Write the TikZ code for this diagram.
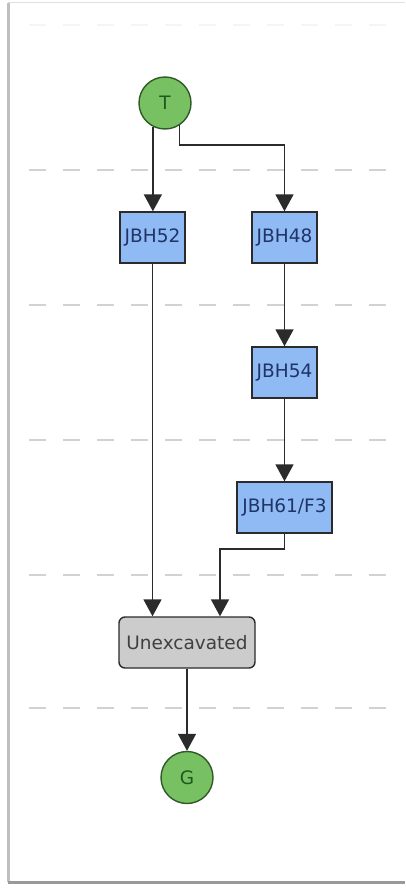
\documentclass[tikz,border=0pt]{standalone}
\usepackage{fontspec}
\setmainfont{DejaVu Sans}
\usetikzlibrary{arrows.meta}
\definecolor{gfill}{HTML}{78C163}
\definecolor{gdraw}{HTML}{2F5A28}
\definecolor{gtext}{HTML}{1D5A1D}
\definecolor{bfill}{HTML}{8FBAF3}
\definecolor{btext}{HTML}{1F3468}
\definecolor{ufill}{HTML}{CCCCCC}
\definecolor{edge}{HTML}{2B2B2B}
\definecolor{dashc}{HTML}{D2D2D2}
\tikzset{
  fnt/.style={font=\fontsize{18.5}{20}\selectfont},
  term/.style={circle, draw=gdraw, fill=gfill, line width=1.4pt, minimum size=52pt, inner sep=0pt, text=gtext, fnt},
  unit/.style={rectangle, draw=edge, fill=bfill, line width=1.4pt, minimum width=65pt, minimum height=51pt, inner sep=0pt, text=btext, fnt},
  unex/.style={rectangle, rounded corners=6pt, draw=edge, fill=ufill, line width=1.4pt, minimum width=136pt, minimum height=51pt, inner sep=0pt, text=edge!90, fnt},
  arr/.style={draw=edge, line width=1.6pt, -{Triangle[width=18pt,length=17pt]}},
  sep/.style={draw=dashc, line width=1.6pt, dash pattern=on 17pt off 17pt},
}
\begin{document}
\begin{tikzpicture}[x=1pt,y=-1pt]
\useasboundingbox (0,0) rectangle (405,888);
% frame
\fill[white] (0,0) rectangle (405,888);
\draw[draw=black!12, line width=1pt] (8,3) -- (405,3);
\draw[draw=black!25, line width=2.5pt] (8.5,3) -- (8.5,882);
\draw[draw=black!40, line width=3pt] (8,882.5) -- (405,882.5);
% separators
\draw[sep, draw=black!4] (29,25) -- (387,25);
\foreach \yy in {170,305,440,575,708} {
  \draw[sep] (29,\yy) -- (387,\yy);
}
% nodes
\node[term] (T) at (165,103) {T};
\node[unit] (J52) at (152.5,237.5) {JBH52};
\node[unit] (J48) at (284.5,237.5) {JBH48};
\node[unit] (J54) at (284.5,372.5) {JBH54};
\node[unit, minimum width=95pt] (J61) at (284.5,507.5) {JBH61/F3};
\node[unex] (U) at (187,642.5) {Unexcavated};
\node[term] (G) at (187,777.5) {G};
% bends
\coordinate (b1) at (179,145);
\coordinate (b2) at (220,549);
% edges
\draw[arr] (T.-117) -- (T.-117 |- J52.north);
\draw[arr] (T.-57) -- (T.-57 |- b1) -| (J48.north);
\draw[arr] (J48.south) -- (J54.north);
\draw[arr] (J54.south) -- (J61.north);
\draw[arr] (J52.south) -- (J52.south |- U.north);
\draw[arr] (J61.south) |- (b2) -- (b2 |- U.north);
\draw[arr] (U.south) -- (G.north);
\end{tikzpicture}
\end{document}
